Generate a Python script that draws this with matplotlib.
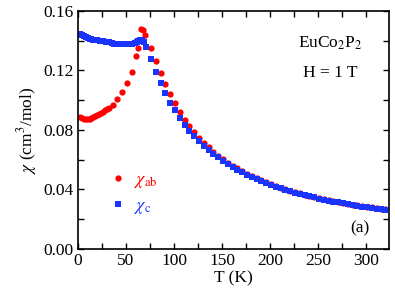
import matplotlib.pyplot as plt
from matplotlib.ticker import MultipleLocator

plt.rcParams.update({
    'font.family': 'serif',
    'font.serif': ['Liberation Serif', 'DejaVu Serif'],
    'mathtext.fontset': 'stix',
    'font.size': 12.5,
    'xtick.direction': 'in',
    'ytick.direction': 'in',
    'xtick.top': True,
    'ytick.right': True,
})

# chi_ab (red circles)
T_ab = [2, 4, 6, 8, 10, 12, 14, 16, 18, 20, 22, 24, 26, 28, 30, 32,
        36, 41, 46, 51, 56, 60, 62, 66, 68, 70,
        76, 81, 86, 91, 96, 101, 106, 111, 116, 121, 126, 131, 136, 141,
        146, 151, 156, 161, 166, 171, 176, 181, 186, 191, 196, 201, 206,
        211, 216, 221, 226, 231, 236, 241, 246, 251, 256, 261, 266, 271,
        276, 281, 286, 291, 296, 301, 306, 311, 316, 320]
chi_ab = [0.0885, 0.0880, 0.0876, 0.0872, 0.0872, 0.0876, 0.0882, 0.0889,
          0.0896, 0.0903, 0.0910, 0.0917, 0.0923, 0.0931, 0.0940, 0.0950,
          0.0968, 0.1006, 0.1053, 0.1114, 0.1192, 0.1297, 0.1349, 0.1477,
          0.1470, 0.1440,
          0.1350, 0.1264, 0.1185, 0.1110, 0.1043, 0.0980, 0.0922, 0.0870,
          0.0826, 0.0784, 0.0746, 0.0714, 0.0683, 0.0654, 0.0628, 0.0604,
          0.0581, 0.0560, 0.0541, 0.0523, 0.0506, 0.0490, 0.0475, 0.0461,
          0.0448, 0.0436, 0.0424, 0.0413, 0.0402, 0.0392, 0.0383, 0.0374,
          0.0365, 0.0357, 0.0349, 0.0342, 0.0335, 0.0328, 0.0322, 0.0316,
          0.0310, 0.0304, 0.0298, 0.0293, 0.0288, 0.0283, 0.0279, 0.0274,
          0.0270, 0.0266]

# chi_c (blue squares)
T_c = [2, 4, 6, 8, 10, 12, 14, 16, 18, 20, 23, 26, 29, 32, 35, 38, 41,
       44, 47, 50, 53, 56, 59, 61, 63, 65, 67, 69, 71,
       76, 81, 86, 91, 96, 101, 106, 111, 116, 121, 126, 131, 136, 141,
       146, 151, 156, 161, 166, 171, 176, 181, 186, 191, 196, 201, 206,
       211, 216, 221, 226, 231, 236, 241, 246, 251, 256, 261, 266, 271,
       276, 281, 286, 291, 296, 301, 306, 311, 316, 320]
chi_c = [0.1445, 0.1440, 0.1433, 0.1425, 0.1420, 0.1414, 0.1410, 0.1406,
         0.1404, 0.1403, 0.1400, 0.1396, 0.1392, 0.1388, 0.1384, 0.1381,
         0.1379, 0.1378, 0.1378, 0.1378, 0.1379, 0.1381, 0.1386, 0.1392,
         0.1398, 0.1404, 0.1402, 0.1390, 0.1360,
         0.1275, 0.1192, 0.1114, 0.1045, 0.0984, 0.0932, 0.0880, 0.0836,
         0.0795, 0.0758, 0.0724, 0.0694, 0.0665, 0.0639, 0.0615, 0.0592,
         0.0571, 0.0551, 0.0532, 0.0515, 0.0499, 0.0484, 0.0469, 0.0456,
         0.0443, 0.0431, 0.0419, 0.0408, 0.0398, 0.0388, 0.0379, 0.0370,
         0.0361, 0.0353, 0.0346, 0.0338, 0.0331, 0.0325, 0.0319, 0.0313,
         0.0307, 0.0301, 0.0296, 0.0290, 0.0285, 0.0281, 0.0276, 0.0272,
         0.0267, 0.0263]

fig = plt.figure(figsize=(3.95, 2.95), dpi=100)
ax = fig.add_axes([0.1975, 0.156, 0.7875, 0.807])

ax.plot(T_ab, chi_ab, 'o', color='#ff0000', ms=4.5, mew=0, label=r'$\chi_{\rm ab}$')
ax.plot(T_c, chi_c, 's', color='#1a33ff', ms=3.8, mew=0, label=r'$\chi_{\rm c}$')

ax.set_xlim(0, 324)
ax.set_ylim(0, 0.16)
ax.xaxis.set_major_locator(MultipleLocator(50))
ax.xaxis.set_minor_locator(MultipleLocator(25))
ax.yaxis.set_major_locator(MultipleLocator(0.04))
ax.yaxis.set_minor_locator(MultipleLocator(0.02))
ax.yaxis.set_major_formatter(plt.FormatStrFormatter('%.2f'))
ax.tick_params(which='both', length=4, width=1, top=True, right=True, pad=3)
for s in ax.spines.values():
    s.set_linewidth(1.2)

ax.set_xlabel('T (K)', labelpad=1)
ax.set_ylabel(r'$\chi$ (cm$^3$/mol)', labelpad=3)

ax.text(0.81, 0.865, r'EuCo$_2$P$_2$', transform=ax.transAxes, ha='center', va='center')
ax.text(0.81, 0.74, 'H = 1 T', transform=ax.transAxes, ha='center', va='center')
ax.text(0.905, 0.085, '(a)', transform=ax.transAxes, ha='center', va='center')

ax.legend(loc='upper left', bbox_to_anchor=(0.07, 0.365), frameon=False,
          handletextpad=0.4, handlelength=1.0, labelspacing=0.4,
          labelcolor='linecolor', borderpad=0, fontsize=13)

fig.savefig('out.png', dpi=100)
